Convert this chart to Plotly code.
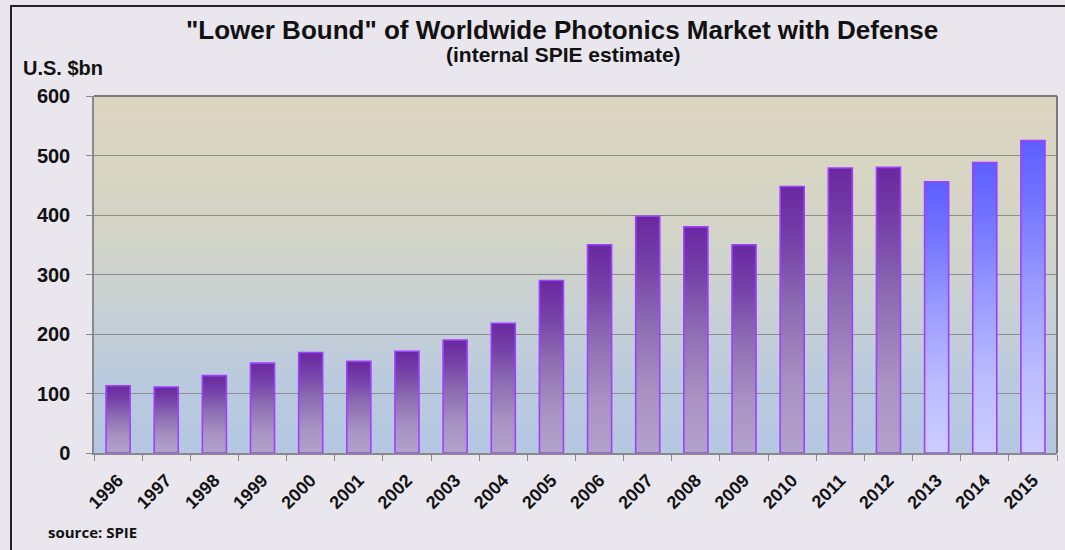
import plotly.graph_objects as go

years = [str(y) for y in range(1996, 2016)]
values = [113, 111, 130, 151, 169, 154, 171, 190, 218, 290,
          350, 398, 380, 350, 448, 479, 480, 456, 488, 525]
estimate_flags = [False] * 17 + [True] * 3  # 2013-2015 shown in blue

title_text = '"Lower Bound" of Worldwide Photonics Market with Defense'
subtitle_text = "(internal SPIE estimate)"
yunit_text = "U.S. $bn"
source_text = "source: SPIE"

W, H = 1065, 550
ML, MR, MT, MB = 94, 8, 96, 97
PW, PH = W - ML - MR, H - MT - MB

def px_x(px):
    return (px - ML) / PW

def px_y(py):
    return (H - MB - py) / PH

purple_scale = [[0.0, "#B2A2CA"], [0.25, "#A892C2"], [0.55, "#8C6CB2"],
                [0.8, "#7540A8"], [1.0, "#6A28A0"]]
blue_scale = [[0.0, "#CCCCFF"], [0.25, "#BCBCFF"], [0.55, "#9898FF"],
              [0.8, "#7474FF"], [1.0, "#5E5EFF"]]
outline = "#A040FF"
half_w = 0.25

fig = go.Figure()
for i, (yr, v, est) in enumerate(zip(years, values, estimate_flags)):
    xs = [i - half_w, i - half_w, i + half_w, i + half_w, i - half_w]
    ys = [0, v, v, 0, 0]
    fig.add_trace(go.Scatter(
        x=xs, y=ys, mode="lines", fill="toself",
        fillgradient=dict(type="vertical",
                          colorscale=blue_scale if est else purple_scale),
        line=dict(color=outline, width=1.6),
        name=yr, hoveron="fills", text=f"{yr}: {v}", hoverinfo="text",
        showlegend=False))

# plot background gradient (tan top -> blue bottom)
bg_stops = [(0.0, (181, 199, 226)), (0.2, (186, 202, 222)), (0.4, (199, 208, 212)),
            (0.6, (210, 212, 200)), (0.8, (216, 213, 195)), (1.0, (220, 213, 193))]
shapes = []
n = 80
for k in range(n):
    f0, f1 = k / n, (k + 1) / n
    fm = (f0 + f1) / 2
    for j in range(len(bg_stops) - 1):
        a, ca = bg_stops[j]
        b, cb = bg_stops[j + 1]
        if a <= fm <= b:
            t = (fm - a) / (b - a)
            c = tuple(int(round(ca[m] + (cb[m] - ca[m]) * t)) for m in range(3))
            break
    shapes.append(dict(type="rect", xref="x domain", yref="y domain",
                       x0=0, x1=1, y0=f0, y1=f1 + 0.002, layer="below",
                       line=dict(width=0), fillcolor=f"rgb{c}"))
# outer frame lines
shapes.append(dict(type="line", xref="paper", yref="paper",
                   x0=px_x(11), x1=px_x(11), y0=px_y(6), y1=px_y(560),
                   line=dict(color="#222222", width=2)))
shapes.append(dict(type="line", xref="paper", yref="paper",
                   x0=px_x(10), x1=px_x(1070), y0=px_y(6), y1=px_y(6),
                   line=dict(color="#222222", width=2)))

font_fam = "Liberation Sans, Arial, sans-serif"
annotations = [
    dict(text=f"<b>{title_text}</b>", x=px_x(562), y=px_y(30), xref="paper", yref="paper",
         showarrow=False, font=dict(family=font_fam, size=26, color="#111111"),
         xanchor="center", yanchor="middle"),
    dict(text=f"<b>{subtitle_text}</b>", x=px_x(563), y=px_y(55), xref="paper", yref="paper",
         showarrow=False, font=dict(family=font_fam, size=21, color="#111111"),
         xanchor="center", yanchor="middle"),
    dict(text=f"<b>{yunit_text}</b>", x=px_x(21), y=px_y(68), xref="paper", yref="paper",
         showarrow=False, font=dict(family=font_fam, size=20, color="#111111"),
         xanchor="left", yanchor="middle"),
    dict(text=f"<b>{source_text}</b>", x=px_x(46), y=px_y(532), xref="paper", yref="paper",
         showarrow=False, font=dict(family="Open Sans, sans-serif", size=15, color="#111111"),
         xanchor="left", yanchor="middle"),
]

fig.update_layout(
    width=W, height=H,
    margin=dict(l=ML, r=MR, t=MT, b=MB, pad=0),
    paper_bgcolor="#E9E6EE", plot_bgcolor="rgba(0,0,0,0)",
    shapes=shapes, annotations=annotations,
    xaxis=dict(range=[-0.5, 19.5], tickmode="array", tickvals=list(range(len(years))),
               ticktext=years, tickangle=-45, ticks="", showgrid=False, zeroline=False,
               tickfont=dict(family=font_fam, size=18, color="#111111", weight="bold"),
               showline=True, linecolor="#8A8A8A", linewidth=1.5, ticklabelstandoff=8,
               minor=dict(tickvals=[i - 0.5 for i in range(len(years) + 1)], ticks="outside",
                          ticklen=6, tickcolor="#8A8A8A", tickwidth=1.2, showgrid=False)),
    yaxis=dict(range=[0, 600], dtick=100, ticks="outside", ticklen=6, tickcolor="#8A8A8A",
               tickfont=dict(family=font_fam, size=20, color="#111111", weight="bold"),
               showgrid=True, gridcolor="#8C8C8C", gridwidth=1, zeroline=False,
               showline=True, linecolor="#8A8A8A", linewidth=1.5, ticklabelstandoff=12),
)
# plot frame: dark top and right edges
fig.add_shape(type="line", xref="x domain", yref="y domain", x0=0, x1=1, y0=1, y1=1,
              line=dict(color="#7A7A7A", width=2))
fig.add_shape(type="line", xref="x domain", yref="y domain", x0=1, x1=1, y0=0, y1=1,
              line=dict(color="#7A7A7A", width=2))

fig.write_html("out.html")
